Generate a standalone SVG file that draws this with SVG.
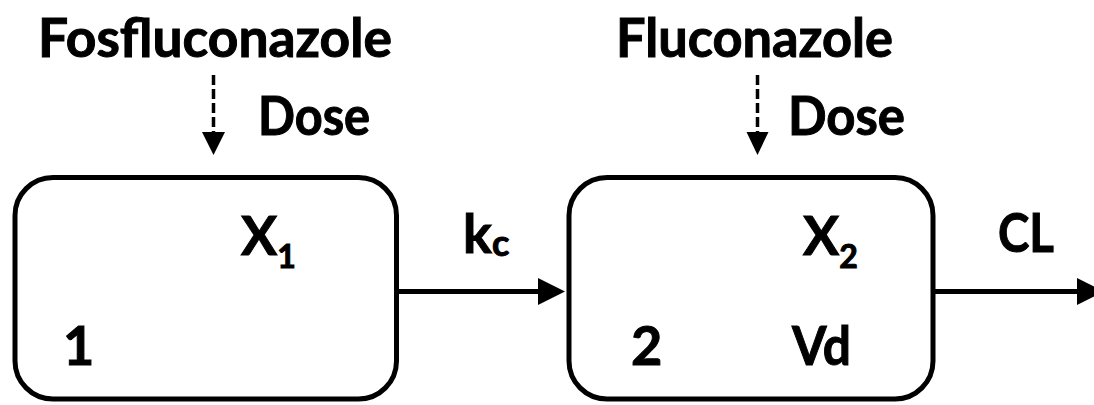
<svg xmlns="http://www.w3.org/2000/svg" width="1094" height="405" viewBox="0 0 1094 405">
  <style>
    text { font-family: Lato, "Open Sans", sans-serif; font-weight: bold; fill: #000; stroke: #000; stroke-width: 1; }
    .big { font-size: 54px; }
    .sub { font-size: 32px; }
    .box { fill: #fff; stroke: #000; stroke-width: 5; }
    .flow { stroke: #000; stroke-width: 5; fill: none; }
    .dose { stroke: #000; stroke-width: 3.5; stroke-dasharray: 10 4; fill: none; }
  </style>
  <defs>
    <marker id="head" markerUnits="userSpaceOnUse" markerWidth="27" markerHeight="27" refX="2" refY="13.5" orient="auto" overflow="visible">
      <path d="M0,0 L27,13.5 L0,27 z" fill="#000"/>
    </marker>
  </defs>

  <!-- compartment 1: fosfluconazole -->
  <g id="compartment1">
    <rect class="box" x="15" y="177.5" width="381.5" height="221.5" rx="38" ry="38"/>
    <text class="big" x="241" y="255">X<tspan class="sub" dy="13">1</tspan></text>
    <text class="big" x="63" y="365">1</text>
  </g>

  <!-- compartment 2: fluconazole -->
  <g id="compartment2">
    <rect class="box" x="569" y="177.5" width="364" height="221.5" rx="38" ry="38"/>
    <text class="big" x="803" y="255">X<tspan class="sub" dy="13">2</tspan></text>
    <text class="big" x="631" y="365">2</text>
    <text class="big" x="792" y="365" textLength="59" lengthAdjust="spacingAndGlyphs">Vd</text>
  </g>

  <!-- dose inputs -->
  <g id="dose1">
    <text class="big" x="38" y="57" textLength="354" lengthAdjust="spacingAndGlyphs">Fosfluconazole</text>
    <text class="big" x="258" y="135" textLength="112" lengthAdjust="spacingAndGlyphs">Dose</text>
  </g>
  <g id="dose2">
    <text class="big" x="616" y="57" textLength="277" lengthAdjust="spacingAndGlyphs">Fluconazole</text>
    <text class="big" x="788" y="135" textLength="117" lengthAdjust="spacingAndGlyphs">Dose</text>
  </g>

  <!-- rate labels -->
  <g id="label-kc">
    <text class="big" x="463" y="253">k<tspan style="font-size:36px" dy="3">c</tspan></text>
  </g>
  <g id="label-cl">
    <text class="big" x="998" y="252" textLength="56" lengthAdjust="spacingAndGlyphs">CL</text>
  </g>

  <!-- connectors -->
  <g id="connectors">
    <line class="dose" x1="213.5" y1="75" x2="213.5" y2="133"/>
    <polygon points="202,132 225,132 213.5,155" fill="#000"/>
    <line class="dose" x1="757.5" y1="75" x2="757.5" y2="133"/>
    <polygon points="746.5,132 768.5,132 757.5,155" fill="#000"/>
    <line class="flow" x1="396.5" y1="291.5" x2="540" y2="291.5" marker-end="url(#head)"/>
    <line class="flow" x1="933" y1="291.5" x2="1079" y2="291.5" marker-end="url(#head)"/>
  </g>
</svg>
